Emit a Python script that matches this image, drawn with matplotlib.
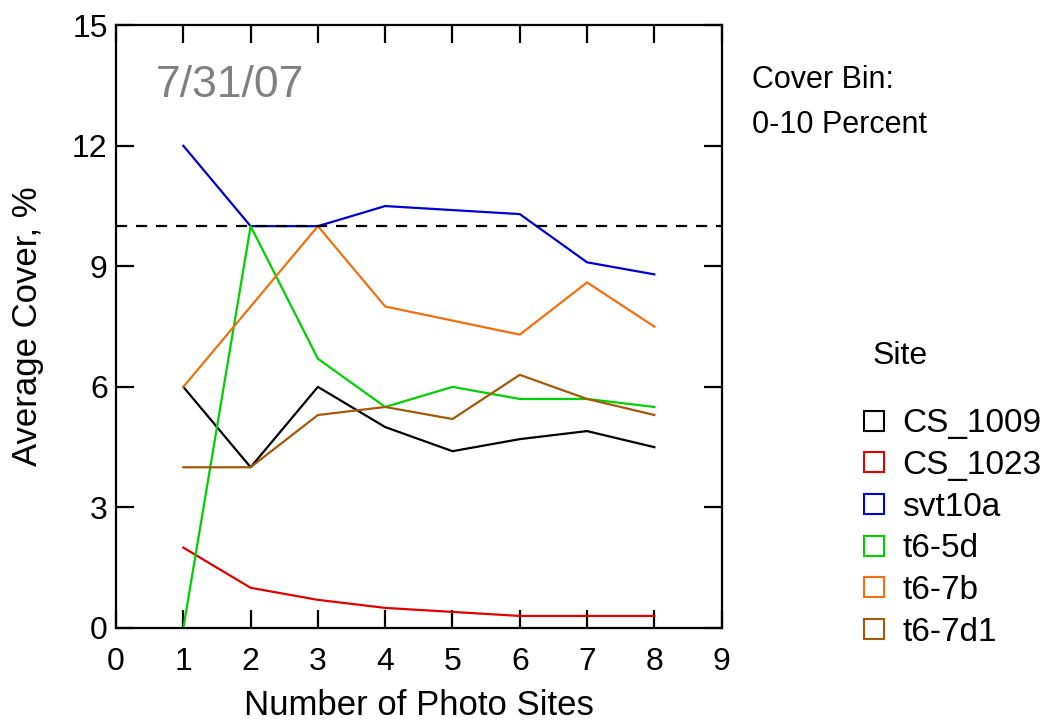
import matplotlib
matplotlib.use("Agg")
from matplotlib import pyplot as plt
from matplotlib.lines import Line2D

plt.rcParams['font.family'] = ['Liberation Sans', 'DejaVu Sans']

# photo sites
x = [1, 2, 3, 4, 5, 6, 7, 8]

cs_1009 = [6.0, 4.0, 6.0, 5.0, 4.4, 4.7, 4.9, 4.5]
cs_1023 = [2.0, 1.0, 0.7, 0.5, 0.4, 0.3, 0.3, 0.3]
svt10a = [12.0, 10.0, 10.0, 10.5, 10.4, 10.3, 9.1, 8.8]
t6_5d = [0.0, 10.0, 6.7, 5.5, 6.0, 5.7, 5.7, 5.5]
t6_7b = [6.0, 8.0, 10.0, 8.0, 7.65, 7.3, 8.6, 7.5]
t6_7d1 = [4.0, 4.0, 5.3, 5.5, 5.2, 6.3, 5.7, 5.3]

sites = ['CS_1009', 'CS_1023', 'svt10a', 't6-5d', 't6-7b', 't6-7d1']
series = [cs_1009, cs_1023, svt10a, t6_5d, t6_7b, t6_7d1]
colors = ['#000000', '#e00000', '#0000d0', '#00d000', '#f07010', '#a05a0a']

fig = plt.figure(figsize=(10.55, 7.21), dpi=100)
ax = fig.add_axes([0.110, 0.129, 0.574, 0.836])

for vals, c in zip(series, colors):
    ax.plot(x, vals, color=c, lw=1.6)

ax.axhline(10, color='black', lw=1.6, ls=(0, (5, 4)))

ax.set_xlim(0, 9)
ax.set_ylim(0, 15)
ax.set_xticks(range(0, 10))
ax.set_yticks([0, 3, 6, 9, 12, 15])
ax.tick_params(direction='in', length=13, width=1.6, labelsize=23,
               top=True, right=True)
ax.tick_params(axis='x', pad=14)
ax.tick_params(axis='y', pad=6)
for s in ax.spines.values():
    s.set_linewidth(1.6)

ax.set_xlabel('Number of Photo Sites', fontsize=25, labelpad=8)
ax.set_ylabel('Average Cover, %', fontsize=25, labelpad=20)

ax.text(0.065, 0.9, '7/31/07', transform=ax.transAxes, fontsize=32,
        color='#808080', va='center', ha='left')

fig.text(0.713, 0.889, 'Cover Bin:', fontsize=22, va='center')
fig.text(0.713, 0.827, '0-10 Percent', fontsize=22, va='center')

fig.text(0.827, 0.506, 'Site', fontsize=23, va='center')
handles = [Line2D([], [], ls='none', marker='s', markersize=14,
                  markerfacecolor='none', markeredgecolor=c, markeredgewidth=1.5)
           for c in colors]
leg = fig.legend(handles, sites, loc='upper left',
                 bbox_to_anchor=(0.800, 0.452), frameon=False, fontsize=24,
                 handlelength=1.0, handletextpad=0.35, labelspacing=0.32,
                 borderaxespad=0)

fig.savefig('out.png', dpi=100)
